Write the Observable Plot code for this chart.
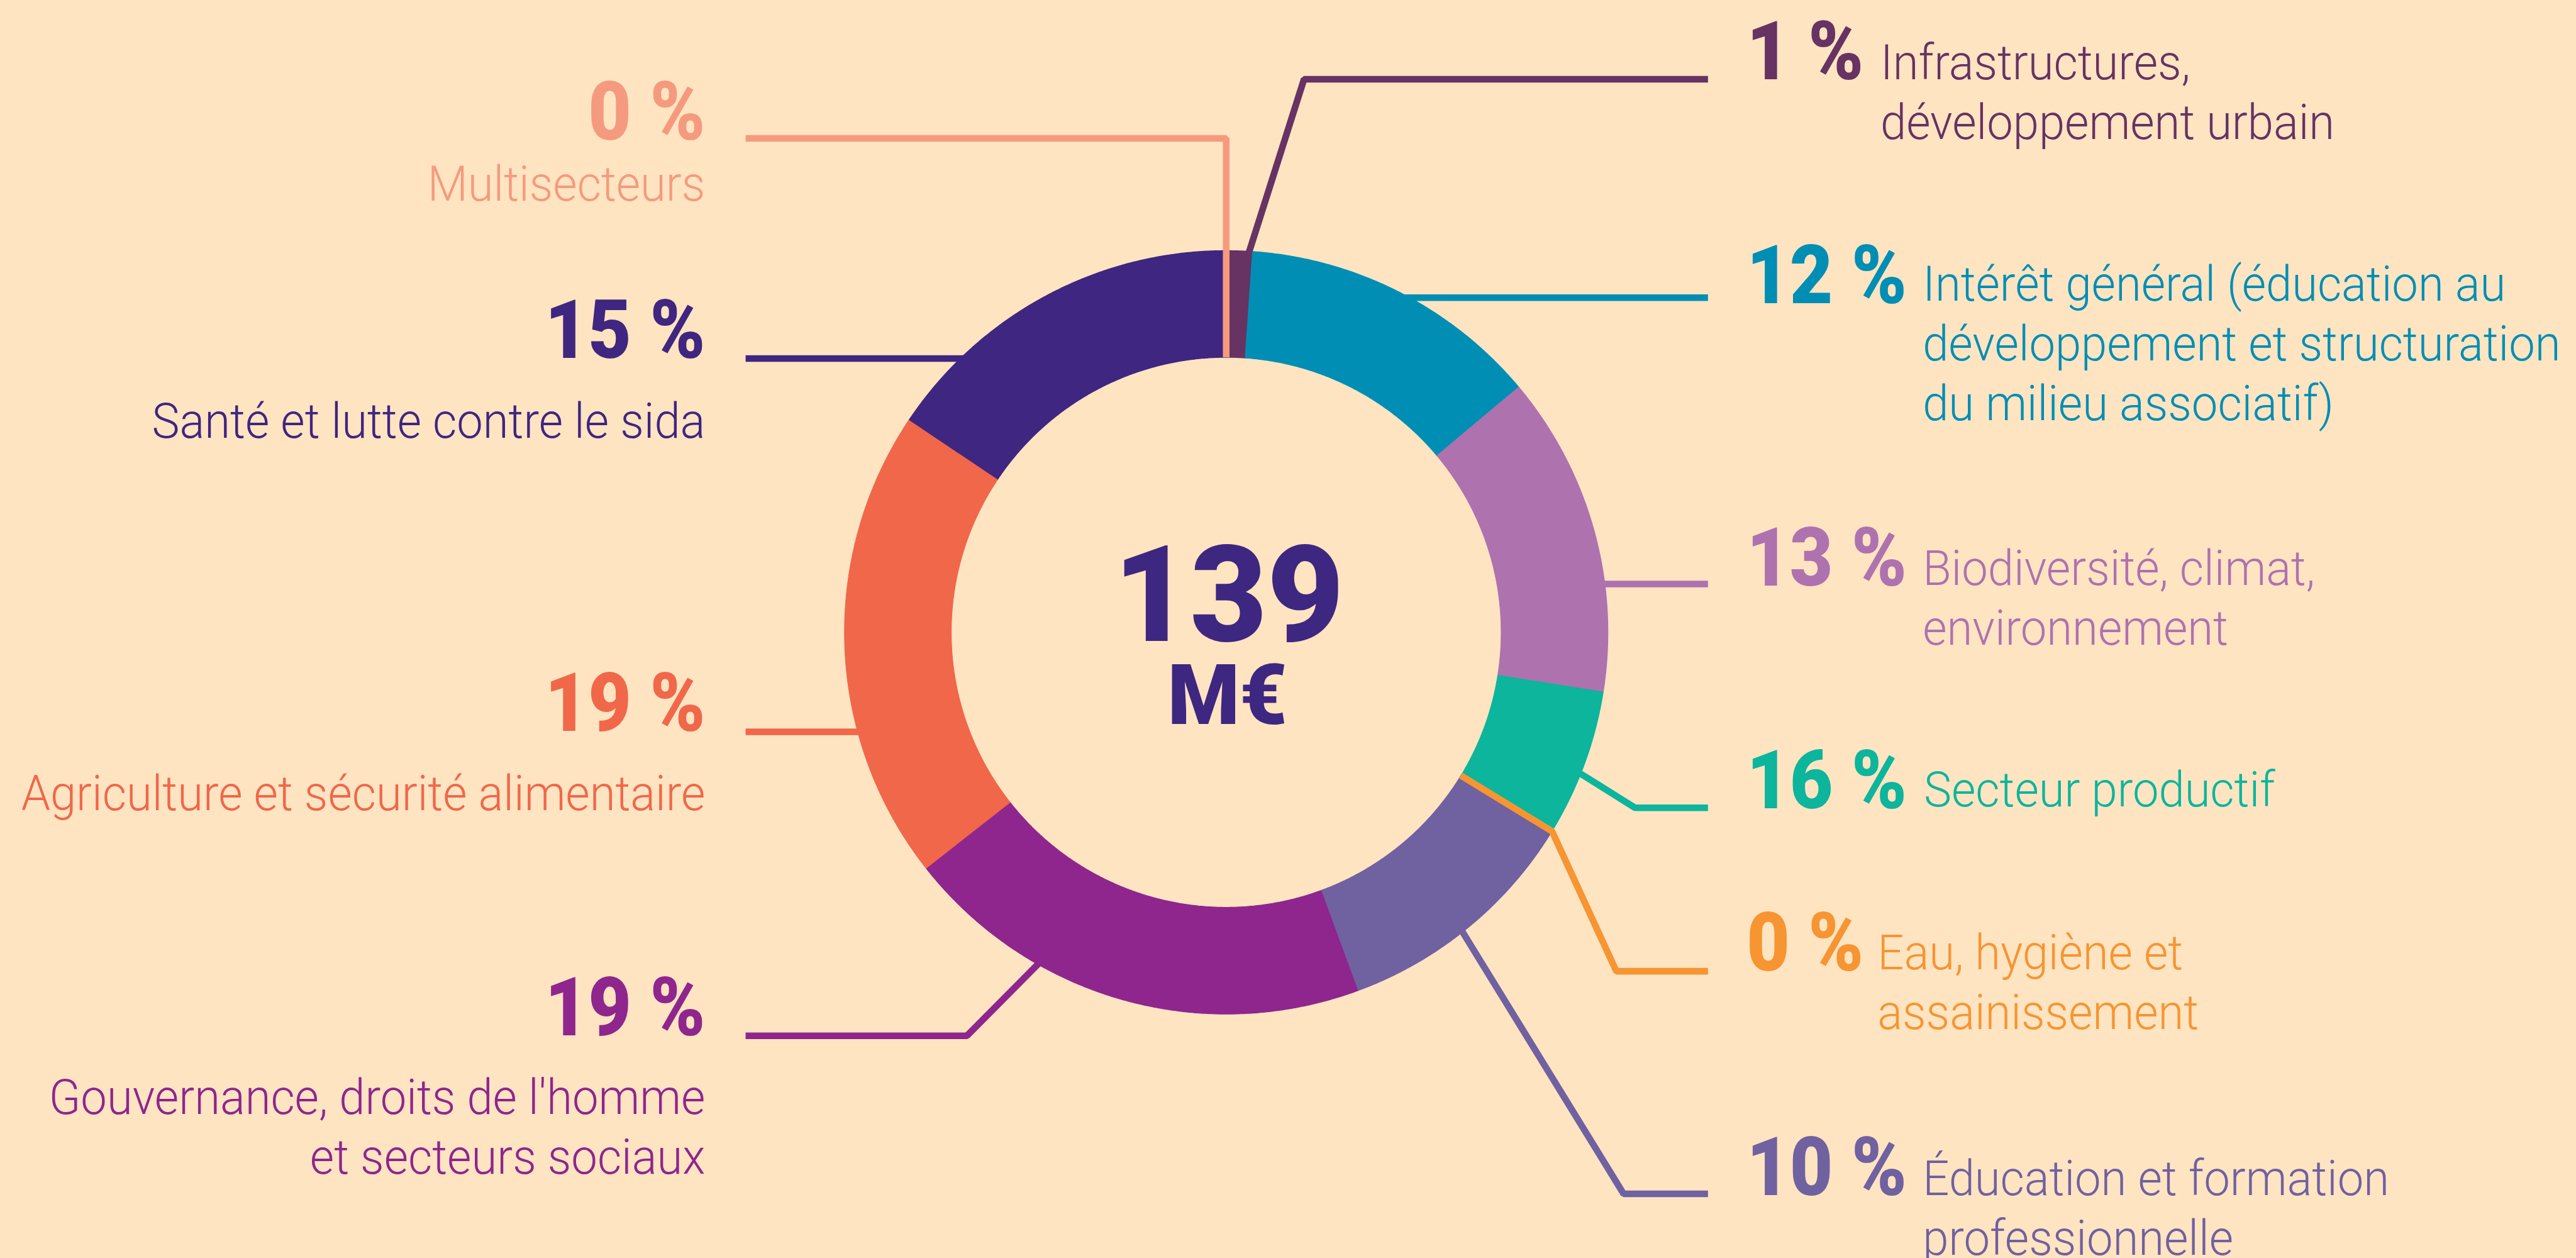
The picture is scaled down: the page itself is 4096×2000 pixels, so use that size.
<!DOCTYPE html>
<html>
<head>
<meta charset="utf-8">
<script src="https://cdn.jsdelivr.net/npm/d3@7"></script>
<script src="https://cdn.jsdelivr.net/npm/@observablehq/plot@0.6"></script>
<style>
  html, body { margin: 0; padding: 0; background: #FFE4C2; }
  svg { display: block; }
</style>
</head>
<body>
<div id="chart"></div>
<script>
// ---------------- DATA ----------------
// Sectors, clockwise from 12 o'clock
const sectors = [
  "Multisecteurs",
  "Infrastructures, développement urbain",
  "Intérêt général (éducation au développement et structuration du milieu associatif)",
  "Biodiversité, climat, environnement",
  "Secteur productif",
  "Eau, hygiène et assainissement",
  "Éducation et formation professionnelle",
  "Gouvernance, droits de l'homme et secteurs sociaux",
  "Agriculture et sécurité alimentaire",
  "Santé et lutte contre le sida"
];
// Label text as broken in the picture
const labelText = [
  "Multisecteurs",
  "Infrastructures,\ndéveloppement urbain",
  "Intérêt général (éducation au\ndéveloppement et structuration\ndu milieu associatif)",
  "Biodiversité, climat,\nenvironnement",
  "Secteur productif",
  "Eau, hygiène et\nassainissement",
  "Éducation et formation\nprofessionnelle",
  "Gouvernance, droits de l'homme\net secteurs sociaux",
  "Agriculture et sécurité alimentaire",
  "Santé et lutte contre le sida"
];
// Printed percentages
const percentLabels = [0, 1, 12, 13, 16, 0, 10, 19, 19, 15];
// Arc sizes as drawn in the picture (share of the ring, %)
const arcShares = [0, 1.1, 12.8, 13.6, 6.2, 0, 10.7, 20, 20, 15.6];
const colors = [
  "#F59A7E", "#663363", "#008EB4", "#AE72AF", "#0CB59C",
  "#F69532", "#7061A0", "#8E268E", "#F0674A", "#3F2680"
];
const totalValue = "139";
const totalUnit = "M€";

// ---------------- LAYOUT (reference pixel space) ----------------
const REF_W = 4272, REF_H = 2086;
const W = 4096, H = 2000;
const K = W / REF_W; // 0.958
const CX = 2033, CY = 1048, R_OUT = 633, R_IN = 456;

// per sector: side, percent baseline, label x, last-line label baseline, leader y, kink x, end angle
const layout = [
  {side: "left",  pctY: 231,  labX: 1169, labY: 332,  lineY: 229,  kink: "vertical", angle: 0,     inner: true},
  {side: "right", pctY: 131,  labX: 3118, labY: 230,  lineY: 131,  kink: 2162,        angle: 3.4},
  {side: "right", pctY: 502,  labX: 3188, labY: 696,  lineY: 493,  kink: null},
  {side: "right", pctY: 970,  labX: 3188, labY: 1069, lineY: 968,  kink: null},
  {side: "right", pctY: 1340, labX: 3190, labY: 1337, lineY: 1339, kink: 2711,        angle: 111.7},
  {side: "right", pctY: 1609, labX: 3113, labY: 1706, lineY: 1610, kink: 2680,        angle: 121.4, inner: true},
  {side: "right", pctY: 1981, labX: 3188, labY: 2080, lineY: 1979, kink: 2692,        angle: 141.7},
  {side: "left",  pctY: 1716, labX: 1169, labY: 1946, lineY: 1717, kink: 1603,        angle: 209.5},
  {side: "left",  pctY: 1211, labX: 1169, labY: 1343, lineY: 1213, kink: null},
  {side: "left",  pctY: 593,  labX: 1169, labY: 725,  lineY: 594,  kink: null}
];
const PCT_X = {left: 1169, right: 2896};
const LINE_X = {left: 1236, right: 2832};

// ---------------- GEOMETRY ----------------
function ringPoint(deg, radius) {
  const a = deg * Math.PI / 180;
  return {x: CX + radius * Math.sin(a), y: CY - radius * Math.cos(a)};
}

// slices
const slicePts = [];
let acc = 0;
sectors.forEach((s, i) => {
  const a0 = acc / 100 * 360;
  acc += arcShares[i];
  const a1 = acc / 100 * 360;
  if (a1 - a0 <= 0) return;
  const n = Math.max(4, Math.ceil((a1 - a0) * 3));
  for (let j = 0; j <= n; j++) slicePts.push({key: s, ...ringPoint(a0 + (a1 - a0) * j / n, R_OUT)});
  for (let j = n; j >= 0; j--) slicePts.push({key: s, ...ringPoint(a0 + (a1 - a0) * j / n, R_IN)});
});

// leader lines
const leaderPts = [];
sectors.forEach((s, i) => {
  const L = layout[i];
  const pts = [{x: LINE_X[L.side], y: L.lineY}];
  if (L.kink === null) {
    const dx = Math.sqrt((R_OUT - 4) ** 2 - (L.lineY - CY) ** 2);
    pts.push({x: L.side === "left" ? CX - dx : CX + dx, y: L.lineY});
  } else if (L.kink === "vertical") {
    const p = ringPoint(L.angle, R_IN);
    pts.push({x: p.x, y: L.lineY});
    pts.push(p);
  } else {
    pts.push({x: L.kink, y: L.lineY});
    if (L.inner) {
      pts.push(ringPoint(L.angle, R_OUT));
      pts.push(ringPoint(L.angle, R_IN));
    } else {
      pts.push(ringPoint(L.angle, R_OUT - 3));
    }
  }
  pts.forEach(p => leaderPts.push({key: s, ...p}));
});

// text rows
const rows = sectors.map((s, i) => ({
  key: s,
  side: layout[i].side,
  pct: `${percentLabels[i]} %`,
  label: labelText[i],
  pctX: PCT_X[layout[i].side],
  pctY: layout[i].pctY,
  labX: layout[i].labX,
  labY: layout[i].labY
}));
const leftRows = rows.filter(d => d.side === "left");
const rightRows = rows.filter(d => d.side === "right");
const centerRows = [
  {t: totalValue, x: CX + 4, y: 1062},
  {t: totalUnit, x: CX + 2, y: 1200}
];

const FONT = "Roboto, 'Noto Sans', sans-serif";
const PCT_SIZE = 135 * K, LAB_SIZE = 82 * K;

// text marks in order, with the horizontal squeeze that mimics the condensed typeface
const textMarks = [
  [Plot.text(leftRows, {x: "pctX", y: "pctY", text: "pct", fill: "key", textAnchor: "end", lineAnchor: "bottom",
    fontFamily: FONT, fontWeight: 900, fontSize: PCT_SIZE}), 0.915],
  [Plot.text(rightRows, {x: "pctX", y: "pctY", text: "pct", fill: "key", textAnchor: "start", lineAnchor: "bottom",
    fontFamily: FONT, fontWeight: 900, fontSize: PCT_SIZE}), 0.915],
  [Plot.text(leftRows, {x: "labX", y: "labY", text: "label", fill: "key", textAnchor: "end", lineAnchor: "bottom",
    lineHeight: 1.21, fontFamily: FONT, fontWeight: 300, fontSize: LAB_SIZE}), 0.943],
  [Plot.text(rightRows, {x: "labX", y: "labY", text: "label", fill: "key", textAnchor: "start", lineAnchor: "bottom",
    lineHeight: 1.21, fontFamily: FONT, fontWeight: 300, fontSize: LAB_SIZE}), 0.943],
  [Plot.text(centerRows.slice(0, 1), {x: "x", y: "y", text: "t", fill: "#3E2780", textAnchor: "middle", lineAnchor: "bottom",
    fontFamily: FONT, fontWeight: 900, fontSize: 222 * K}), 0.99],
  [Plot.text(centerRows.slice(1), {x: "x", y: "y", text: "t", fill: "#3E2780", textAnchor: "middle", lineAnchor: "bottom",
    fontFamily: FONT, fontWeight: 900, fontSize: 140 * K}), 0.975]
];

const svg = Plot.plot({
  width: W,
  height: H,
  margin: 0,
  x: {domain: [0, REF_W], range: [0, W], axis: null},
  y: {domain: [0, REF_H], range: [0, H], axis: null},
  color: {domain: sectors, range: colors},
  style: {background: "#FFE4C2", overflow: "visible"},
  marks: [
    Plot.line(slicePts, {x: "x", y: "y", z: "key", fill: "key", stroke: "key", strokeWidth: 1.2, curve: "linear-closed"}),
    Plot.line(leaderPts, {x: "x", y: "y", z: "key", stroke: "key", strokeWidth: 11 * K, strokeLinejoin: "miter", strokeLinecap: "butt"}),
    ...textMarks.map(d => d[0])
  ]
});

const textGroups = svg.querySelectorAll('g[aria-label="text"]');
textGroups.forEach((g, gi) => {
  const s = textMarks[gi] ? textMarks[gi][1] : 1;
  g.querySelectorAll("text").forEach(t => {
    t.setAttribute("transform", (t.getAttribute("transform") || "") + ` scale(${s},1)`);
  });
});
document.getElementById("chart").appendChild(svg);
</script>
</body>
</html>
